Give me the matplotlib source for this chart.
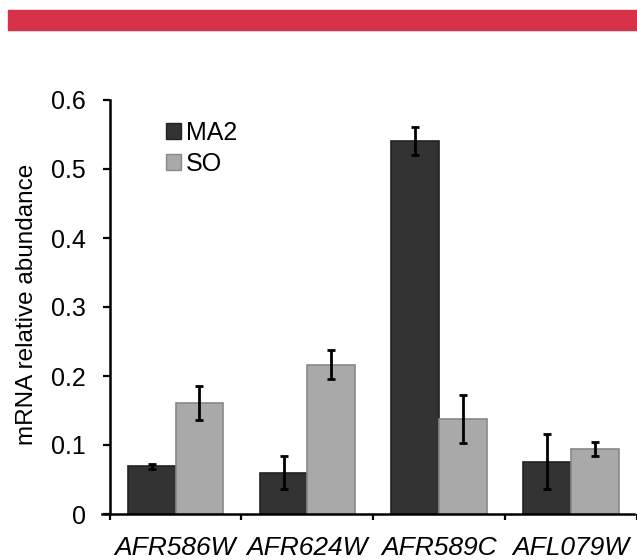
import matplotlib.pyplot as plt
from matplotlib.patches import Patch, Rectangle
import numpy as np

plt.rcParams['font.family'] = ['Liberation Sans', 'DejaVu Sans']

genes = ['AFR586W', 'AFR624W', 'AFR589C', 'AFL079W']
ma2 = [0.069, 0.060, 0.541, 0.076]
ma2_err = [0.004, 0.024, 0.020, 0.040]
so = [0.161, 0.216, 0.138, 0.094]
so_err = [0.025, 0.021, 0.035, 0.010]

series_names = ['MA2', 'SO']
colors = ['#333333', '#a9a9a9']
edges = ['#222222', '#888888']

fig = plt.figure(figsize=(6.37, 5.6), dpi=100)

# red band at the top
fig.patches.append(Rectangle((8 / 637, 530 / 560), 1, 20 / 560,
                             transform=fig.transFigure, color='#d63249', zorder=0))

ax = fig.add_axes([109.6 / 637, 46 / 560, 527.4 / 637, 414 / 560])

x = np.arange(len(genes))
w = 0.362
err_kw = dict(ecolor='black', elinewidth=2, capsize=3, capthick=2)
ax.bar(x + 0.5 - w / 2, ma2, w, yerr=ma2_err, color=colors[0], edgecolor=edges[0],
       linewidth=1.2, error_kw=err_kw, zorder=2)
ax.bar(x + 0.5 + w / 2, so, w, yerr=so_err, color=colors[1], edgecolor=edges[1],
       linewidth=1.2, error_kw=err_kw, zorder=2)

ax.set_xlim(0, 527.4 / 132.5)
ax.set_ylim(0, 0.6)
ax.set_yticks(np.arange(0, 0.61, 0.1))
ax.set_yticklabels(['0', '0.1', '0.2', '0.3', '0.4', '0.5', '0.6'], fontsize=18)
ax.tick_params(axis='y', length=5, width=1.6, pad=12)

ax.set_xticks(x + 0.5)
ax.set_xticklabels(genes, fontsize=19, style='italic')
ax.set_xticks(np.arange(0, 5), minor=True)
ax.tick_params(axis='x', which='major', length=0, pad=16)
ax.tick_params(axis='x', which='minor', length=4, width=1.6)

for side in ['top', 'right']:
    ax.spines[side].set_visible(False)
for side in ['left', 'bottom']:
    ax.spines[side].set_linewidth(1.8)
ax.spines['bottom'].set_bounds(-0.06, 527.4 / 132.5)

ax.set_ylabel('mRNA relative abundance', fontsize=17.5, va='center')
ax.yaxis.set_label_coords(-0.157, 0.507)

handles = [Patch(facecolor=colors[i], edgecolor=edges[i]) for i in range(2)]
ax.legend(handles, series_names, loc='upper left', bbox_to_anchor=(0.107, 0.95),
          frameon=False, fontsize=18, handlelength=0.6, handleheight=0.6,
          handletextpad=0.2, labelspacing=0.3, borderpad=0, borderaxespad=0)

plt.savefig('out.png', dpi=100)
